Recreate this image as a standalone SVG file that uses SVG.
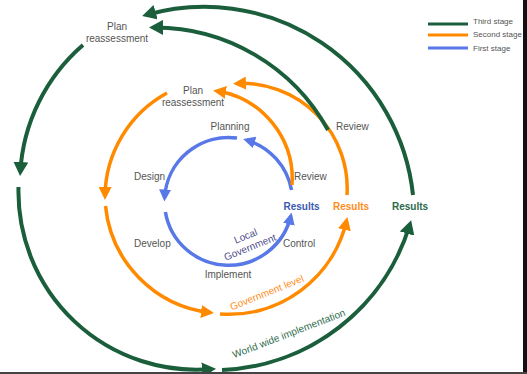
<svg xmlns="http://www.w3.org/2000/svg" width="527" height="374" viewBox="0 0 527 374">
<defs>
<style>
.lbl{font-family:"Liberation Sans",Arial,sans-serif;font-size:10px;fill:#555}
.res{font-family:"Liberation Sans",Arial,sans-serif;font-size:10px;font-weight:bold;text-anchor:middle}
.leg{font-family:"Liberation Sans",Arial,sans-serif;font-size:8px;fill:#555}
.g{fill:none;stroke:#1b5e3b;stroke-width:4}
.o{fill:none;stroke:#ff8a00;stroke-width:3.5}
.b{fill:none;stroke:#5878e8;stroke-width:3.5}
</style>
<marker id="ag" markerUnits="userSpaceOnUse" viewBox="0 0 14 15" markerWidth="14" markerHeight="15" refX="10" refY="7.5" orient="auto"><path d="M0,0 L14,7.5 L0,15 z" fill="#1b5e3b"/></marker>
<marker id="ao" markerUnits="userSpaceOnUse" viewBox="0 0 13 13" markerWidth="13" markerHeight="13" refX="9" refY="6.5" orient="auto"><path d="M0,0 L13,6.5 L0,13 z" fill="#ff8a00"/></marker>
<marker id="ab" markerUnits="userSpaceOnUse" viewBox="0 0 12 12" markerWidth="12" markerHeight="12" refX="8.5" refY="6" orient="auto"><path d="M0,0 L12,6 L0,12 z" fill="#5878e8"/></marker>
</defs>
<rect x="0" y="0" width="527" height="374" fill="#fff"/>
<g id="connectors">
<path class="b" d="M237,138.1 A64,64 0 0 0 164.6,198" marker-end="url(#ab)"/>
<path class="b" d="M165.4,212 A64,64 0 0 0 290.8,216" marker-end="url(#ab)"/>
<path class="b" d="M291.5,190 A64,64 0 0 0 246.5,140.1" marker-end="url(#ab)"/>
<path class="o" d="M292,185 A89,89 0 0 0 217,91" marker-end="url(#ao)"/>
<path class="o" d="M167,93 A119,119 0 0 0 105,196" marker-end="url(#ao)"/>
<path class="o" d="M105.5,206 A119,119 0 0 0 210,312.5" marker-end="url(#ao)"/>
<path class="o" d="M220,314 A121,121 0 0 0 346.5,221" marker-end="url(#ao)"/>
<path class="o" d="M347,195 A105,105 0 0 0 237,83.5" marker-end="url(#ao)"/>
<path class="g" d="M328,130 A198,198 0 0 0 153,27.5" marker-end="url(#ag)"/>
<path class="g" d="M413,195 A210,210 0 0 0 146,15" marker-end="url(#ag)"/>
<path class="g" d="M83,45 A182,182 0 0 0 20.3,172" marker-end="url(#ag)"/>
<path class="g" d="M18.5,187 A178,178 0 0 0 212,369" marker-end="url(#ag)"/>
<path class="g" d="M222,370 A205,205 0 0 0 410,224" marker-end="url(#ag)"/>
</g>
<g id="plan-reassessment-outer"><text class="lbl" text-anchor="middle"><tspan x="117" y="29.5">Plan</tspan><tspan x="117" y="41.5">reassessment</tspan></text></g>
<g id="plan-reassessment-inner"><text class="lbl" text-anchor="middle"><tspan x="193" y="93.5">Plan</tspan><tspan x="193" y="105.5">reassessment</tspan></text></g>
<g id="planning"><text class="lbl" x="230" y="129.5" text-anchor="middle">Planning</text></g>
<g id="design"><text class="lbl" x="134" y="179.5">Design</text></g>
<g id="review-inner"><text class="lbl" x="294" y="179.5">Review</text></g>
<g id="review-outer"><text class="lbl" x="336" y="129.5">Review</text></g>
<g id="develop"><text class="lbl" x="134" y="246.5">Develop</text></g>
<g id="control"><text class="lbl" x="283" y="246.5">Control</text></g>
<g id="implement"><text class="lbl" x="228" y="277.5" text-anchor="middle">Implement</text></g>
<g id="results-first"><text class="res" x="301.5" y="209.5" fill="#3b5bb0">Results</text></g>
<g id="results-second"><text class="res" x="351" y="209.5" fill="#ff8c1a">Results</text></g>
<g id="results-third"><text class="res" x="410" y="209.5" fill="#2b6a4a">Results</text></g>
<g id="local-government"><text class="lbl" text-anchor="middle" style="fill:#4d4d8c" transform="rotate(-22 248 242)"><tspan x="248" y="239">Local</tspan><tspan x="248" y="251">Government</tspan></text></g>
<g id="government-level"><text class="lbl" x="267" y="296" text-anchor="middle" style="fill:#ff8c1a" transform="rotate(-22 267 293)">Government level</text></g>
<g id="world-wide"><text class="lbl" x="289" y="337" text-anchor="middle" style="fill:#2b6a4a" transform="rotate(-21 289 334)">World wide implementation</text></g>
<g id="legend">
<line x1="428" y1="24" x2="468" y2="24" stroke="#1b5e3b" stroke-width="3"/>
<line x1="428" y1="35" x2="468" y2="35" stroke="#ff8a00" stroke-width="3"/>
<line x1="428" y1="48" x2="468" y2="48" stroke="#5878e8" stroke-width="3"/>
<text class="leg" x="473" y="24">Third stage</text>
<text class="leg" x="473" y="37">Second stage</text>
<text class="leg" x="473" y="51">First stage</text>
</g>
<rect x="523" y="0" width="4" height="374" fill="#111"/>
<rect x="0" y="372" width="527" height="2" fill="#444"/>
</svg>
